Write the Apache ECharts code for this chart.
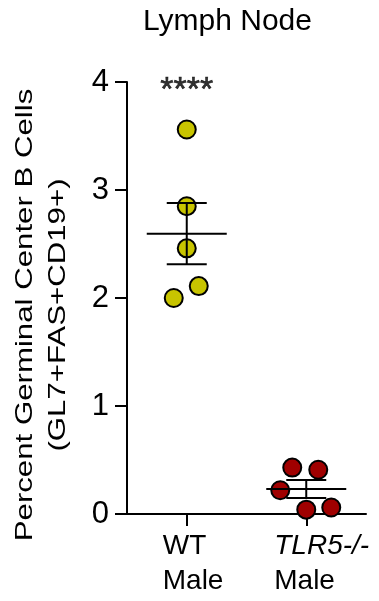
<!DOCTYPE html>
<html>
<head>
<meta charset="utf-8">
<script src="https://cdn.jsdelivr.net/npm/echarts@6/dist/echarts.min.js"></script>
<style>html,body{margin:0;padding:0;background:#fff;}#c{width:379px;height:601px;}</style>
</head>
<body>
<div id="c"></div>
<script>
const titleText = 'Lymph Node';
const yAxisName = ['Percent Germinal Center B Cells', '(GL7+FAS+CD19+)'];
const categories = ['WT', 'TLR5-/-'];
const categorySub = ['Male', 'Male'];
const yTicks = ['0', '1', '2', '3', '4'];
const wtValues = [3.56, 2.85, 2.46, 2.00, 2.11];
const tlr5Values = [0.43, 0.41, 0.22, 0.04, 0.06];
const significance = '****';

// layout (pixel jitter for point spreading)
const jitterWT = [0, 0, 0, -13, 12];
const jitterTLR5 = [-14, 12, -26, 0, 25];

const FONT = '"Liberation Sans", Arial, sans-serif';

function meanSem(arr) {
  const n = arr.length;
  const m = arr.reduce((a, b) => a + b, 0) / n;
  const sd = Math.sqrt(arr.reduce((a, b) => a + (b - m) * (b - m), 0) / (n - 1));
  const sem = sd / Math.sqrt(n);
  return [m, m - sem, m + sem];
}

const groups = [wtValues, tlr5Values];
const statsData = groups.map((g, i) => [i].concat(meanSem(g)));

const chart = echarts.init(document.getElementById('c'), null, { renderer: 'canvas' });

const XF = 28, XLH = 35;
const option = {
  animation: false,
  backgroundColor: '#ffffff',
  title: {
    text: titleText,
    left: 138,
    top: 2,
    textStyle: { fontFamily: FONT, fontSize: 30, fontWeight: 'normal', color: '#000' }
  },
  grid: { left: 127, right: 13, top: 82, bottom: 87, containLabel: false },
  xAxis: {
    type: 'category',
    data: categories,
    boundaryGap: true,
    axisLine: { show: true, lineStyle: { color: '#000', width: 2 } },
    axisTick: { show: true, alignWithLabel: true, length: 12, lineStyle: { color: '#000', width: 2 } },
    axisLabel: {
      interval: 0,
      margin: 15,
      color: '#000',
      fontFamily: FONT,
      fontSize: XF,
      lineHeight: XLH,
      formatter: function (v, idx) {
        if (idx === 0) return '{w|' + v + '}\n{w|' + categorySub[idx] + '}';
        return '{ti|' + v + '}\n{t|' + categorySub[idx] + '}';
      },
      rich: {
        w: { fontFamily: FONT, fontSize: XF, lineHeight: XLH, color: '#000', width: 48, align: 'left' },
        ti: { fontFamily: FONT, fontSize: XF, lineHeight: XLH, color: '#000', fontStyle: 'italic', width: 64, align: 'left' },
        t: { fontFamily: FONT, fontSize: XF, lineHeight: XLH, color: '#000', width: 64, align: 'left' }
      }
    },
    splitLine: { show: false }
  },
  yAxis: {
    type: 'value',
    min: 0,
    max: 4,
    interval: 1,
    axisLine: { show: true, lineStyle: { color: '#000', width: 2 } },
    axisTick: { show: true, length: 12, lineStyle: { color: '#000', width: 2 } },
    axisLabel: {
      margin: 18,
      color: '#000',
      fontFamily: FONT,
      fontSize: 31,
      formatter: function (v) { return yTicks[Math.round(v)]; }
    },
    splitLine: { show: false }
  },
  graphic: [{
    type: 'text',
    x: 42,
    y: 315,
    rotation: Math.PI / 2,
    scaleX: 1.3,
    style: {
      text: yAxisName.join('\n'),
      font: '24px ' + FONT,
      fill: '#000',
      align: 'center',
      verticalAlign: 'middle',
      lineHeight: 33
    }
  }],
  series: [
    {
      type: 'scatter',
      clip: false,
      z: 3,
      symbol: 'circle',
      symbolSize: 18,
      itemStyle: { color: '#C8C400', borderColor: '#000', borderWidth: 2, opacity: 1 },
      data: wtValues.map((v, i) => ({ value: [categories[0], v], symbolOffset: [jitterWT[i], 0] }))
    },
    {
      type: 'scatter',
      clip: false,
      z: 3,
      symbol: 'circle',
      symbolSize: 18,
      itemStyle: { color: '#A00000', borderColor: '#000', borderWidth: 2, opacity: 1 },
      data: tlr5Values.map((v, i) => ({ value: [categories[1], v], symbolOffset: [jitterTLR5[i], 0] }))
    },
    {
      type: 'custom',
      z: 5,
      clip: false,
      data: statsData,
      renderItem: function (params, api) {
        const idx = api.value(0);
        const pm = api.coord([idx, api.value(1)]);
        const plo = api.coord([idx, api.value(2)]);
        const phi = api.coord([idx, api.value(3)]);
        const st = { stroke: '#000', lineWidth: 2 };
        return {
          type: 'group',
          children: [
            { type: 'line', shape: { x1: pm[0] - 40, y1: pm[1], x2: pm[0] + 40, y2: pm[1] }, style: st },
            { type: 'line', shape: { x1: plo[0], y1: plo[1], x2: phi[0], y2: phi[1] }, style: st },
            { type: 'line', shape: { x1: plo[0] - 20, y1: plo[1], x2: plo[0] + 20, y2: plo[1] }, style: st },
            { type: 'line', shape: { x1: phi[0] - 20, y1: phi[1], x2: phi[0] + 20, y2: phi[1] }, style: st }
          ]
        };
      }
    },
    {
      type: 'scatter',
      z: 6,
      clip: false,
      symbolSize: 0,
      itemStyle: { color: 'rgba(0,0,0,0)' },
      silent: true,
      label: {
        show: true,
        position: 'inside',
        formatter: significance,
        color: '#000',
        fontFamily: FONT,
        fontSize: 34,
        textBorderColor: '#000',
        textBorderWidth: 0.6,
        offset: [0, 9]
      },
      data: [[categories[0], 4]]
    }
  ]
};
chart.setOption(option);
</script>
</body>
</html>
